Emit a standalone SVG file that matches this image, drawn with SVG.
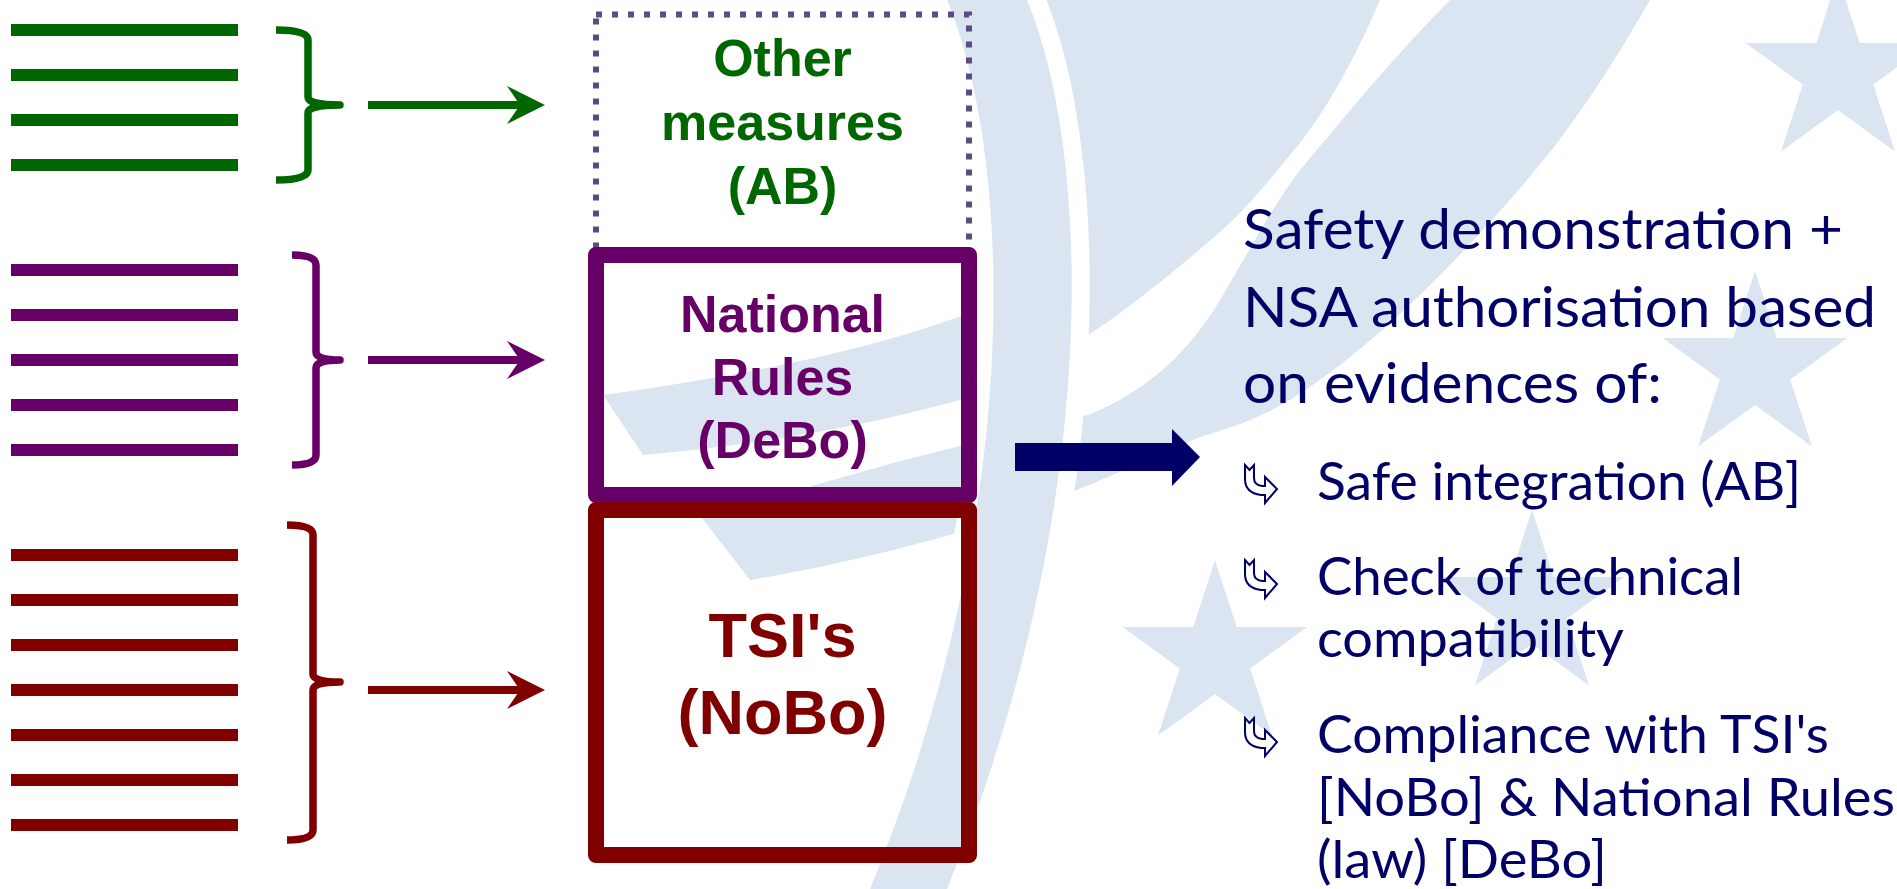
<svg xmlns="http://www.w3.org/2000/svg" width="1897" height="889" viewBox="0 0 1897 889">
<style>
.wm{fill:#dbe5f1}
.gl{stroke:#006600;stroke-width:12}
.pl{stroke:#660066;stroke-width:12}
.rl{stroke:#800000;stroke-width:12}
.br{fill:none;stroke-width:7.5;stroke-linejoin:round}
.box{font-family:"Liberation Sans",Arial,sans-serif;font-weight:bold;text-anchor:middle}
.rt{font-family:Lato,"Open Sans",sans-serif;fill:#000066}
.bul{fill:#fff;stroke:#000066;stroke-width:2;stroke-linejoin:miter}
</style>
<defs>
<path id="star" d="M0,-97 L21.7,-29.9 L92.3,-30 L35.2,11.4 L57,78.5 L0,37 L-57,78.5 L-35.2,11.4 L-92.3,-30 L-21.7,-29.9 Z"/>
<path id="bullet" d="M0,0 L4.5,5 L9,0 L9,13 Q9,20 17,21 L20,21 L20,12 L32,24 L20,38 L20,30 L16,30 Q0,28 0,14 Z"/>
<marker id="ahG" markerUnits="userSpaceOnUse" markerWidth="40" markerHeight="40" viewBox="0 0 40 40" refX="18" refY="19" orient="auto"><path d="M0,0 L38,19 L0,38 L13,19 Z" fill="#006600"/></marker>
<marker id="ahP" markerUnits="userSpaceOnUse" markerWidth="40" markerHeight="40" viewBox="0 0 40 40" refX="18" refY="19" orient="auto"><path d="M0,0 L38,19 L0,38 L13,19 Z" fill="#660066"/></marker>
<marker id="ahR" markerUnits="userSpaceOnUse" markerWidth="40" markerHeight="40" viewBox="0 0 40 40" refX="18" refY="19" orient="auto"><path d="M0,0 L38,19 L0,38 L13,19 Z" fill="#800000"/></marker>
</defs>
<rect width="1897" height="889" fill="#fff"/>
<g id="watermark">
<path class="wm" d="M603,395 C750,375 900,345 1000,300 C1040,250 1045,150 1045,0 L1380,0 C1350,70 1320,120 1290,155 C1265,185 1245,210 1220,232 C1130,310 1050,370 960,400 C850,430 750,445 643,455 Z"/>
<path class="wm" d="M702,518 C780,495 840,478 893,463 C960,445 1030,430 1088,415 C1150,390 1190,350 1220,300 C1250,250 1270,210 1300,170 C1350,110 1400,50 1450,0 L1650,0 C1610,70 1570,130 1527,180 C1450,270 1370,350 1290,400 C1260,418 1230,428 1200,437 C1160,455 1120,472 1082,488 C1040,505 1000,520 960,532 C880,555 810,570 750,580 Z"/>
<path class="wm" stroke="#fff" stroke-width="36" paint-order="stroke" d="M947,0 L1027,0 C1090,150 1105,500 947,889 L870,889 C1030,500 1010,150 947,0 Z"/>
<use href="#star" class="wm" x="1838" y="73"/>
<use href="#star" class="wm" x="1755" y="368"/>
<use href="#star" class="wm" x="1215" y="657"/>
<use href="#star" class="wm" x="1532" y="607"/>
</g>
<g id="green-lines">
<line class="gl" x1="11" y1="30" x2="238" y2="30"/>
<line class="gl" x1="11" y1="75" x2="238" y2="75"/>
<line class="gl" x1="11" y1="120" x2="238" y2="120"/>
<line class="gl" x1="11" y1="165" x2="238" y2="165"/>
<path class="br" stroke="#006600" d="M276,30 Q308,30 308,40 L308,97 Q308,105 340,105 Q308,105 308,113 L308,170 Q308,180 276,180"/>
</g>
<g id="purple-lines">
<line class="pl" x1="11" y1="270" x2="238" y2="270"/>
<line class="pl" x1="11" y1="315" x2="238" y2="315"/>
<line class="pl" x1="11" y1="360" x2="238" y2="360"/>
<line class="pl" x1="11" y1="405" x2="238" y2="405"/>
<line class="pl" x1="11" y1="450" x2="238" y2="450"/>
<path class="br" stroke="#660066" d="M292,255 Q316,255 316,265 L316,352 Q316,360 340,360 Q316,360 316,368 L316,455 Q316,465 292,465"/>
</g>
<g id="red-lines">
<line class="rl" x1="11" y1="555" x2="238" y2="555"/>
<line class="rl" x1="11" y1="600" x2="238" y2="600"/>
<line class="rl" x1="11" y1="645" x2="238" y2="645"/>
<line class="rl" x1="11" y1="690" x2="238" y2="690"/>
<line class="rl" x1="11" y1="735" x2="238" y2="735"/>
<line class="rl" x1="11" y1="780" x2="238" y2="780"/>
<line class="rl" x1="11" y1="825" x2="238" y2="825"/>
<path class="br" stroke="#800000" d="M287,525 Q313,525 313,535 L313,674 Q313,682 340,682 Q313,682 313,690 L313,830 Q313,840 287,840"/>
</g>
<g id="connectors">
<line x1="368" y1="105" x2="525" y2="105" stroke="#006600" stroke-width="8" marker-end="url(#ahG)"/>
<line x1="368" y1="360" x2="525" y2="360" stroke="#660066" stroke-width="8" marker-end="url(#ahP)"/>
<line x1="368" y1="690" x2="525" y2="690" stroke="#800000" stroke-width="8" marker-end="url(#ahR)"/>
<polygon points="1015,443 1172,443 1172,429 1200,457 1172,486 1172,471 1015,471" fill="#000066"/>
</g>
<g id="other-measures">
<rect x="596" y="14.5" width="373" height="240" fill="none" stroke="#5c4a80" stroke-width="6" stroke-dasharray="6 10"/>
<text class="box" fill="#006600" font-size="52"><tspan x="782.5" y="76">Other</tspan><tspan x="782.5" y="140">measures</tspan><tspan x="782.5" y="204">(AB)</tspan></text>
</g>
<g id="national-rules">
<rect x="596" y="255" width="373" height="240" fill="none" stroke="#660066" stroke-width="16" stroke-linejoin="round"/>
<text class="box" fill="#660066" font-size="52"><tspan x="782.5" y="332">National</tspan><tspan x="782.5" y="395">Rules</tspan><tspan x="782.5" y="458">(DeBo)</tspan></text>
</g>
<g id="tsis">
<rect x="596" y="510" width="373" height="345" fill="none" stroke="#800000" stroke-width="16" stroke-linejoin="round"/>
<text class="box" fill="#800000" font-size="63"><tspan x="782.5" y="657">TSI's</tspan><tspan x="782.5" y="734">(NoBo)</tspan></text>
</g>
<g id="result">
<text class="rt" font-size="57" x="1243" y="249" textLength="600" lengthAdjust="spacingAndGlyphs">Safety demonstration +</text>
<text class="rt" font-size="57" x="1243" y="327" textLength="633" lengthAdjust="spacingAndGlyphs">NSA authorisation based</text>
<text class="rt" font-size="57" x="1243" y="403" textLength="419" lengthAdjust="spacingAndGlyphs">on evidences of:</text>
<use href="#bullet" class="bul" x="1245" y="465"/>
<use href="#bullet" class="bul" x="1245" y="560"/>
<use href="#bullet" class="bul" x="1245" y="718"/>
<text class="rt" font-size="52" x="1317" y="500" textLength="484" lengthAdjust="spacingAndGlyphs">Safe integration (AB]</text>
<text class="rt" font-size="52" x="1317" y="595" textLength="426" lengthAdjust="spacingAndGlyphs">Check of technical</text>
<text class="rt" font-size="52" x="1317" y="657" textLength="307" lengthAdjust="spacingAndGlyphs">compatibility</text>
<text class="rt" font-size="52" x="1317" y="753" textLength="512" lengthAdjust="spacingAndGlyphs">Compliance with TSI's</text>
<text class="rt" font-size="52" x="1317" y="816" textLength="578" lengthAdjust="spacingAndGlyphs">[NoBo] &amp; National Rules</text>
<text class="rt" font-size="52" x="1317" y="878" textLength="290" lengthAdjust="spacingAndGlyphs">(law) [DeBo]</text>
</g>
</svg>
